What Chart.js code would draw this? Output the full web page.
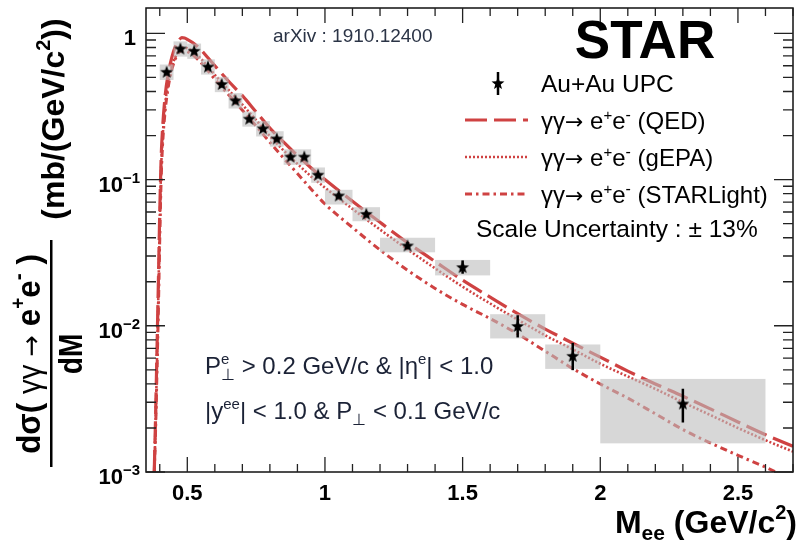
<!DOCTYPE html>
<html><head><meta charset="utf-8">
<script src="https://cdn.jsdelivr.net/npm/chart.js@4/dist/chart.umd.min.js"></script>
<style>html,body{margin:0;padding:0;background:#fff;}#wrap{width:801px;height:544px;position:relative;}</style>
</head><body><div id="wrap"><canvas id="c" width="801" height="544"></canvas></div>
<script>
// ---------------- data ----------------
const binCenters = [0.425,0.475,0.525,0.575,0.625,0.675,0.725,0.775,0.825,0.875,0.925,0.975,1.05,1.15,1.3,1.5,1.7,1.9,2.3];
const binLow     = [0.40,0.45,0.50,0.55,0.60,0.65,0.70,0.75,0.80,0.85,0.90,0.95,1.0,1.1,1.2,1.4,1.6,1.8,2.0];
const binHigh    = [0.45,0.50,0.55,0.60,0.65,0.70,0.75,0.80,0.85,0.90,0.95,1.00,1.1,1.2,1.4,1.6,1.8,2.0,2.6];
const xsec       = [0.546,0.787,0.760,0.593,0.450,0.348,0.261,0.224,0.191,0.1436,0.1436,0.108,0.0778,0.0583,0.0354,0.0252,0.00997,0.00623,0.00294];
const statLow    = [0.535,0.771,0.745,0.581,0.441,0.341,0.256,0.219,0.187,0.1405,0.1405,0.1055,0.0745,0.0558,0.0335,0.0227,0.00832,0.00497,0.00218];
const statHigh   = [0.557,0.803,0.775,0.605,0.459,0.355,0.266,0.229,0.195,0.1467,0.1467,0.1105,0.0811,0.0608,0.0374,0.0280,0.0118,0.00764,0.00371];
const sysLow     = [0.480,0.693,0.669,0.522,0.396,0.306,0.230,0.197,0.168,0.126,0.126,0.095,0.0675,0.0519,0.0318,0.0221,0.00819,0.00507,0.00157];
const sysHigh    = [0.612,0.881,0.851,0.664,0.504,0.390,0.292,0.251,0.214,0.161,0.161,0.121,0.0851,0.0647,0.0400,0.0282,0.0120,0.00745,0.00433];

const curveM = [0.380,0.385,0.390,0.395,0.400,0.405,0.410,0.420,0.430,0.440,0.450,0.460,0.470,0.480,0.490,0.500,0.525,0.550,0.575,0.600,0.650,0.700,0.750,0.800,0.850,0.900,0.950,1.000,1.1,1.2,1.3,1.4,1.5,1.6,1.7,1.8,1.9,2.0,2.1,2.2,2.3,2.4,2.5,2.6,2.7];
const qedCurve = [0.001,0.0025,0.007,0.02,0.06,0.14,0.22,0.38,0.52,0.64,0.75,0.84,0.90,0.935,0.93,0.91,0.85,0.77,0.68,0.60,0.47,0.375,0.29,0.225,0.18,0.146,0.12,0.10,0.071,0.051,0.037,0.0275,0.0205,0.0157,0.0121,0.0095,0.0076,0.0061,0.0049,0.0040,0.0033,0.0027,0.0022,0.0018,0.0015];
const gepaCurve = [0.001,0.0022,0.006,0.017,0.05,0.12,0.19,0.33,0.45,0.55,0.64,0.71,0.77,0.80,0.80,0.79,0.74,0.67,0.59,0.52,0.41,0.325,0.255,0.198,0.158,0.128,0.105,0.088,0.063,0.0455,0.0333,0.0247,0.0185,0.0142,0.0110,0.0086,0.0069,0.0055,0.0045,0.0037,0.0030,0.00245,0.0020,0.00165,0.00138];
const starlightCurve = [0.001,0.002,0.005,0.013,0.04,0.10,0.17,0.30,0.42,0.53,0.62,0.69,0.74,0.76,0.76,0.75,0.70,0.63,0.555,0.485,0.38,0.298,0.232,0.180,0.140,0.110,0.086,0.068,0.047,0.033,0.024,0.018,0.014,0.0112,0.0088,0.0067,0.0051,0.0040,0.0032,0.0025,0.00195,0.00158,0.0013,0.00108,0.00088];

const xMajorTicks = [0.5,1,1.5,2,2.5];
const xTickLabels = ['0.5','1','1.5','2','2.5'];
const yMajorTicks = [1,0.1,0.01,0.001];
const yTickBase   = ['1','10','10','10'];
const yTickExp    = ['','\u22121','\u22122','\u22123'];
const seriesNames = ['Au+Au UPC','(QED)','(gEPA)','(STARLight)'];

// ---------------- helpers ----------------
const RED = '#cf4242';
const FAM = '"Liberation Sans", Arial, Helvetica, sans-serif';
const F = (s,b)=> (b?'bold ':'')+s+'px '+FAM;
const FA = (s)=> s+'px "DejaVu Sans", sans-serif';
function makeStar(r){
  const s=Math.ceil(r*2+2), c=document.createElement('canvas'); c.width=s; c.height=s;
  const g=c.getContext('2d'); g.fillStyle='#000'; g.beginPath();
  for(let k=0;k<10;k++){const rad=k%2?r*0.42:r; const a=-Math.PI/2+k*Math.PI/5;
    const px=s/2+rad*Math.cos(a), py=s/2+rad*Math.sin(a)+0.6; k?g.lineTo(px,py):g.moveTo(px,py);}
  g.closePath(); g.fill(); return c;
}
const starImg = makeStar(6.8);
function drawRich(ctx,pieces,x,y,align,sx){
  sx=sx||1; let w=0;
  const m=pieces.map(p=>{ctx.font=p.f; const pw=ctx.measureText(p.t).width; const r={p,x:w}; if(!p.noAdv) w+=pw; return r;});
  const x0= align==='right'? x-w*sx : align==='center'? x-w*sx/2 : x;
  ctx.save(); ctx.translate(x0,y); ctx.scale(sx,1); ctx.textAlign='left'; ctx.textBaseline='alphabetic';
  m.forEach(r=>{ctx.font=r.p.f; ctx.fillStyle=r.p.c||ctx.fillStyle; ctx.fillText(r.p.t,r.x,r.p.dy||0);});
  ctx.restore(); return w*sx;
}

// ---------------- plugin ----------------
const deco = {
  id:'deco',
  beforeDatasetDraw(chart,args){
    if(args.index!==3) return;
    const ctx=chart.ctx, xs=chart.scales.x, ys=chart.scales.y;
    ctx.save();
    ctx.fillStyle='rgba(188,188,188,0.6)';
    for(let i=0;i<binCenters.length;i++){
      const x1=xs.getPixelForValue(binLow[i]), x2=xs.getPixelForValue(binHigh[i]);
      const y1=ys.getPixelForValue(sysHigh[i]), y2=ys.getPixelForValue(sysLow[i]);
      ctx.fillRect(x1,y1,x2-x1,y2-y1);
    }
    ctx.strokeStyle='#000'; ctx.lineWidth=2.5;
    for(let i=0;i<binCenters.length;i++){
      const x=xs.getPixelForValue(binCenters[i]);
      ctx.beginPath(); ctx.moveTo(x,ys.getPixelForValue(statHigh[i])); ctx.lineTo(x,ys.getPixelForValue(statLow[i])); ctx.stroke();
    }
    ctx.restore();
  },
  afterDraw(chart){
    const ctx=chart.ctx, xs=chart.scales.x, ys=chart.scales.y, a=chart.chartArea;
    ctx.save();
    // frame
    ctx.strokeStyle='#111'; ctx.lineWidth=1.5;
    ctx.strokeRect(a.left,a.top,a.right-a.left,a.bottom-a.top);
    ctx.lineWidth=1.3; ctx.strokeStyle='#222';
    // x ticks
    for(let k=4;k<=27;k++){
      const v=k/10, major=(k%5===0), len=major?15:8, px=xs.getPixelForValue(v);
      ctx.beginPath(); ctx.moveTo(px,a.bottom); ctx.lineTo(px,a.bottom-len);
      ctx.moveTo(px,a.top); ctx.lineTo(px,a.top+len); ctx.stroke();
    }
    // y ticks
    for(let d=-3;d<=0;d++){
      for(let m=1;m<=9;m++){
        const v=m*Math.pow(10,d); if(v>ys.max) continue;
        const len=(m===1)?19:10, py=ys.getPixelForValue(v);
        ctx.beginPath(); ctx.moveTo(a.left,py); ctx.lineTo(a.left+len,py);
        ctx.moveTo(a.right,py); ctx.lineTo(a.right-len,py); ctx.stroke();
      }
    }
    // tick labels
    ctx.fillStyle='#000';
    xMajorTicks.forEach((v,i)=>{ drawRich(ctx,[{t:xTickLabels[i],f:F(22,true)}],xs.getPixelForValue(v),500,'center'); });
    yMajorTicks.forEach((v,i)=>{
      const py=ys.getPixelForValue(v);
      const p=[{t:yTickBase[i],f:F(22,true)}];
      if(yTickExp[i]) p.push({t:yTickExp[i],f:F(15,true),dy:-9});
      drawRich(ctx,p,yTickExp[i]?140:136,py+12,'right');
    });
    // x title
    drawRich(ctx,[{t:'M',f:F(32,true)},{t:'ee',f:F(21,true),dy:7},{t:' (GeV/c',f:F(32,true)},{t:'2',f:F(20,true),dy:-14},{t:')',f:F(32,true)}],797,533,'right');
    // y title (rotated)
    ctx.save(); ctx.translate(40,467); ctx.rotate(-Math.PI/2);
    ctx.fillStyle='#000';
    drawRich(ctx,[{t:'d\u03c3( ',f:F(33,true)},{t:'\u03b3\u03b3 ',f:F(31,false)},{t:'\u2192',f:FA(27)},{t:' e',f:F(33,true)},{t:'+',f:F(20,true),dy:-15},{t:'e',f:F(33,true)},{t:'-',f:F(22,true),dy:-15},{t:' )',f:F(33,true)}],113,0,'center',0.95);
    ctx.fillRect(0,10,227,2.5);
    drawRich(ctx,[{t:'dM',f:F(33,true)}],113,42,'center',0.85);
    drawRich(ctx,[{t:'(mb/(GeV/c',f:F(32,true)},{t:'2',f:F(20,true),dy:-14},{t:'))',f:F(32,true)}],348,24,'center');
    ctx.restore();
    // texts
    ctx.fillStyle='#2b3446';
    drawRich(ctx,[{t:'arXiv : 1910.12400',f:F(19,false)}],273,42,'left');
    ctx.fillStyle='#000';
    drawRich(ctx,[{t:'STAR',f:F(53,true)}],645,58,'center');
    // legend
    const lx1=465, lx2=528, tx=541;
    ctx.drawImage(starImg,498-starImg.width/2,83-starImg.height/2);
    ctx.strokeStyle='#000'; ctx.lineWidth=2.5; ctx.beginPath(); ctx.moveTo(498,72); ctx.lineTo(498,95); ctx.stroke();
    drawRich(ctx,[{t:seriesNames[0],f:F(24.5,false)}],tx,92,'left');
    const ly=[120,157,194];
    [0,1,2].forEach(j=>{
      const ds=chart.data.datasets[j];
      ctx.save(); ctx.strokeStyle=ds.borderColor; ctx.lineWidth=ds.borderWidth; ctx.setLineDash(ds.borderDash||[]);
      ctx.beginPath(); ctx.moveTo(lx1,ly[j]); ctx.lineTo(lx2,ly[j]); ctx.stroke(); ctx.restore();
      ctx.fillStyle='#000';
      drawRich(ctx,[{t:'\u03b3\u03b3',f:F(24,false)},{t:'\u2192',f:FA(22)},{t:' e',f:F(24,false)},{t:'+',f:F(15,false),dy:-9},{t:'e',f:F(24,false)},{t:'-',f:F(16,false),dy:-9},{t:' '+seriesNames[j+1],f:F(24,false)}],tx,ly[j]+9,'left');
    });
    drawRich(ctx,[{t:'Scale Uncertainty : \u00b1 13%',f:F(24.5,false)}],476,237,'left');
    // cut text
    ctx.fillStyle='#1b2236';
    drawRich(ctx,[{t:'P',f:F(24,false)},{t:'e',f:F(15,false),dy:-10,noAdv:true},{t:'\u22a5',f:F(16,false),dy:6},{t:' > 0.2 GeV/c & |\u03b7',f:F(24,false)},{t:'e',f:F(15,false),dy:-10},{t:'| < 1.0',f:F(24,false)}],205,374,'left');
    drawRich(ctx,[{t:'|y',f:F(24,false)},{t:'ee',f:F(15,false),dy:-10},{t:'| < 1.0 & P',f:F(24,false)},{t:'\u22a5',f:F(16,false),dy:6},{t:' < 0.1 GeV/c',f:F(24,false)}],205,419,'left');
    ctx.restore();
  }
};

const pts = (xa,ya)=> xa.map((x,i)=>({x:x,y:ya[i]}));
new Chart(document.getElementById('c'),{
  type:'line',
  data:{datasets:[
    {label:'QED',data:pts(curveM,qedCurve),borderColor:RED,borderWidth:3.2,borderDash:[22,7],pointRadius:0,cubicInterpolationMode:'monotone',fill:false,order:3},
    {label:'gEPA',data:pts(curveM,gepaCurve),borderColor:RED,borderWidth:2.6,borderDash:[2,2],pointRadius:0,cubicInterpolationMode:'monotone',fill:false,order:2},
    {label:'STARLight',data:pts(curveM,starlightCurve),borderColor:RED,borderWidth:3,borderDash:[7,4,2.5,4],pointRadius:0,cubicInterpolationMode:'monotone',fill:false,order:1},
    {label:'Au+Au UPC',data:pts(binCenters,xsec),showLine:false,pointStyle:starImg,pointRadius:7,order:0}
  ]},
  options:{
    responsive:false, animation:false, devicePixelRatio:1,
    layout:{padding:{left:146,right:2,top:7,bottom:72}},
    plugins:{legend:{display:false},tooltip:{enabled:false}},
    scales:{
      x:{type:'linear',min:0.35,max:2.7,display:false},
      y:{type:'logarithmic',min:0.001,max:1.49,display:false}
    }
  },
  plugins:[deco]
});
</script></body></html>
